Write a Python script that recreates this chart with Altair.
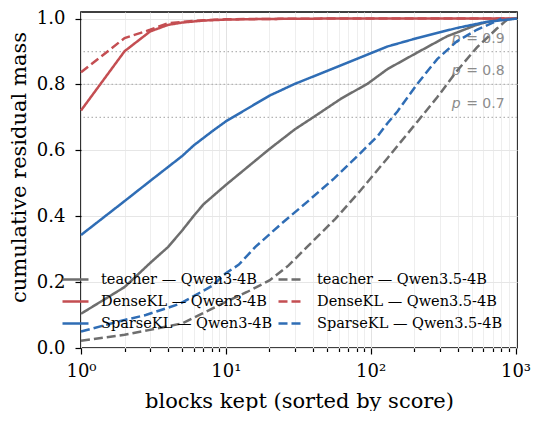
import altair as alt
import pandas as pd

# ---- data ----
series_names = [
    "teacher — Qwen3-4B", "teacher — Qwen3.5-4B",
    "DenseKL — Qwen3-4B", "DenseKL — Qwen3.5-4B",
    "SparseKL — Qwen3-4B", "SparseKL — Qwen3.5-4B",
]
series_colors = ["#6e6e6e", "#6e6e6e", "#c44e52", "#c44e52", "#2f6db5", "#2f6db5"]
series_dash = [[1, 0], [9, 4], [1, 0], [9, 4], [1, 0], [9, 4]]
# legend fills column by column: Qwen3-4B column, then Qwen3.5-4B column
legend_order = [0, 2, 4, 1, 3, 5]

x_t3 = [1, 2, 3, 4, 5, 6, 7, 10, 20, 30, 40, 63, 95, 131, 210, 336, 540, 740, 1024]
y_t3 = [0.104, 0.185, 0.258, 0.307, 0.357, 0.401, 0.436, 0.495, 0.604, 0.664, 0.700,
        0.758, 0.802, 0.847, 0.897, 0.946, 0.981, 0.997, 1.0]

x_t35 = [1, 2, 3, 5, 10, 14, 20, 27, 37, 57, 85, 131, 210, 288, 394, 540, 741, 841, 900]
y_t35 = [0.022, 0.040, 0.055, 0.075, 0.140, 0.170, 0.205, 0.250, 0.310, 0.392, 0.478,
         0.577, 0.687, 0.761, 0.841, 0.912, 0.969, 0.990, 1.0]

x_d3 = [1, 2, 3, 4, 5, 7, 10, 20, 50, 1024]
y_d3 = [0.721, 0.901, 0.961, 0.981, 0.988, 0.994, 0.997, 0.999, 1.0, 1.0]

x_d35 = [1, 2, 3, 4, 5, 7, 10, 20, 50, 900]
y_d35 = [0.837, 0.941, 0.966, 0.986, 0.990, 0.995, 0.998, 0.999, 1.0, 1.0]

x_s3 = [1, 2, 3, 5, 6, 8, 10, 20, 30, 50, 85, 130, 210, 390, 630, 1024]
y_s3 = [0.343, 0.446, 0.507, 0.583, 0.615, 0.657, 0.688, 0.766, 0.802, 0.841, 0.882,
        0.915, 0.941, 0.971, 0.990, 1.0]

x_s35 = [1, 2, 2.8, 4.8, 8, 10, 12.3, 16, 24, 37, 56, 86, 112, 131, 153, 210, 288, 394,
         540, 686, 800]
y_s35 = [0.050, 0.085, 0.100, 0.134, 0.188, 0.227, 0.253, 0.307, 0.376, 0.446, 0.515,
         0.594, 0.644, 0.683, 0.718, 0.802, 0.877, 0.931, 0.966, 0.986, 1.0]

p_levels = [0.7, 0.8, 0.9]
p_label_x = 841

major_ticks = [1, 10, 100, 1000]
minor_ticks = [2, 3, 4, 5, 6, 7, 8, 9, 20, 30, 40, 50, 60, 70, 80, 90,
               200, 300, 400, 500, 600, 700, 800, 900]
y_ticks = [0.0, 0.2, 0.4, 0.6, 0.8, 1.0]

SERIF = "DejaVu Serif"

# ---- tables ----
xs = [x_t3, x_t35, x_d3, x_d35, x_s3, x_s35]
ys = [y_t3, y_t35, y_d3, y_d35, y_s3, y_s35]
rows = []
for name, xv, yv in zip(series_names, xs, ys):
    for a, b in zip(xv, yv):
        rows.append({"x": a, "y": b, "series": name})
df = pd.DataFrame(rows)

dom = [series_names[i] for i in legend_order]
col_rng = [series_colors[i] for i in legend_order]
dash_rng = [series_dash[i] for i in legend_order]

ref_df = pd.DataFrame({"y": p_levels})
lab_df = pd.DataFrame({"x": [p_label_x] * len(p_levels), "y": p_levels,
                       "txt": [f"= {v:.1f}" for v in p_levels]})

is_major = "abs(log(datum.value)/LN10 - round(log(datum.value)/LN10)) < 1e-6"

x_enc = alt.X(
    "x:Q",
    scale=alt.Scale(type="log", domain=[1, 1024], nice=False),
    axis=alt.Axis(
        title="blocks kept (sorted by score)",
        values=major_ticks + minor_ticks,
        labelExpr="(" + is_major + ") ? '10' + ['⁰','¹','²','³'][round(log(datum.value)/LN10)] : ''",
        tickSize={"condition": {"test": is_major, "value": 6}, "value": 3.5},
        gridColor={"condition": {"test": is_major, "value": "#e2e2e2"}, "value": "#eeeeee"},
        gridWidth=1,
        domain=False,
        tickColor="black",
        tickWidth=1.2,
        labelFont=SERIF,
        labelFontSize=18,
        labelColor="black",
        labelPadding=8,
        labelOverlap=False,
        labelFlush=False,
        titleFont=SERIF,
        titleFontSize=21,
        titleFontWeight="normal",
        titleColor="black",
        titleBaseline="alphabetic",
        titleY=59,
    ),
)

y_enc = alt.Y(
    "y:Q",
    scale=alt.Scale(domain=[0, 1.02], nice=False),
    axis=alt.Axis(
        title="cumulative residual mass",
        values=y_ticks,
        format=".1f",
        grid=True,
        gridColor="#e6e6e6",
        gridWidth=1,
        domain=False,
        tickSize=6,
        tickColor="black",
        tickWidth=1.2,
        labelFont=SERIF,
        labelFontSize=18,
        labelColor="black",
        labelPadding=10,
        titleFont=SERIF,
        titleFontSize=21,
        titleFontWeight="normal",
        titleColor="black",
        titleBaseline="alphabetic",
        titleX=-56,
        titleY=155,
    ),
)

rules = alt.Chart(ref_df).mark_rule(
    color="#b4b4b4", strokeWidth=1.2, strokeDash=[1.5, 2.5]
).encode(y=y_enc)

labels = alt.Chart(lab_df).mark_text(
    align="right", baseline="alphabetic", dy=-9,
    font="DejaVu Sans", fontSize=14, color="#8c8c8c"
).encode(x=x_enc, y=y_enc, text="txt:N")

p_italic = alt.Chart(lab_df).mark_text(
    align="right", baseline="alphabetic", dy=-9, dx=-44,
    font="DejaVu Sans", fontSize=14, fontStyle="italic", color="#8c8c8c"
).encode(x=x_enc, y=y_enc, text=alt.value("p"))

legend = alt.Legend(
    title=None, orient="none", legendX=-20, legendY=253, columns=2,
    symbolType="stroke", symbolSize=676, symbolStrokeWidth=2.5,
    labelFont=SERIF, labelFontSize=14.5, labelColor="black",
    labelOffset=11, columnPadding=0, rowPadding=1, padding=0, labelLimit=300,
)

lines = alt.Chart(df).mark_line(strokeWidth=2.5).encode(
    x=x_enc,
    y=y_enc,
    color=alt.Color("series:N", scale=alt.Scale(domain=dom, range=col_rng),
                    legend=legend),
    strokeDash=alt.StrokeDash("series:N",
                              scale=alt.Scale(domain=dom, range=dash_rng),
                              legend=legend),
    detail="series:N",
)

chart = alt.layer(rules, labels, p_italic, lines).properties(
    width=436, height=336,
    autosize=alt.AutoSizeParams(type="none"),
    padding={"left": 73, "top": 4, "right": 14, "bottom": 63},
).configure(font=SERIF).configure_view(
    stroke="black", strokeWidth=1.6
).configure_legend(labelFont=SERIF).configure_axis(labelFont=SERIF, titleFont=SERIF)

chart.save("out.html", embed_options={"renderer": "svg", "actions": False})
